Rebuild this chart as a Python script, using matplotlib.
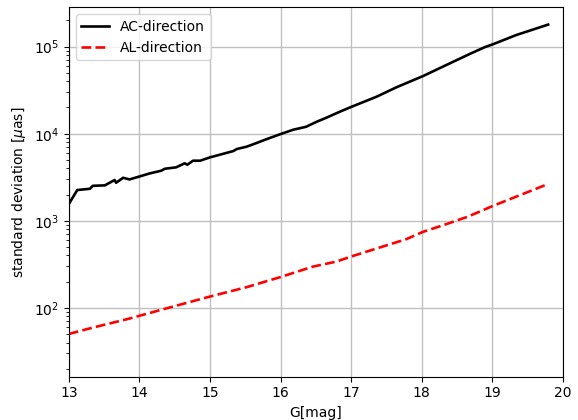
import matplotlib
matplotlib.use("Agg")
import matplotlib.pyplot as plt

# values (G magnitude vs. standard deviation in micro-arcsec)
g_ac = [13.0, 13.12, 13.30, 13.34, 13.51, 13.65, 13.67, 13.77, 13.86, 14.15, 14.31,
        14.36, 14.52, 14.64, 14.68, 14.76, 14.86, 15.00, 15.33, 15.38, 15.52, 15.66,
        15.78, 15.99, 16.18, 16.36, 16.51, 16.65, 16.84, 17.00, 17.36, 17.64, 18.02,
        18.40, 18.68, 18.89, 19.01, 19.34, 19.79]
sd_ac = [1556, 2255, 2333, 2524, 2550, 2940, 2735, 3120, 2985, 3506, 3760,
         3960, 4110, 4570, 4410, 4900, 4900, 5350, 6320, 6670, 7100, 7820,
         8530, 9840, 11120, 12000, 13700, 15280, 17900, 20300, 26600, 34100, 46000,
         64400, 82400, 98400, 106600, 136000, 179000]

g_al = [13.0, 13.34, 13.82, 14.34, 15.0, 15.52, 15.99, 16.46, 16.79, 17.0, 17.36,
        17.78, 18.02, 18.35, 18.63, 18.77, 19.01, 19.77]
sd_al = [50.2, 59.4, 74, 96.6, 135, 173, 225, 298, 340, 389, 481,
         615, 748, 917, 1100, 1225, 1486, 2610]

fig, ax = plt.subplots(figsize=(5.78, 4.2), dpi=100)
ax.plot(g_ac, sd_ac, color='black', linestyle='-', linewidth=1.9, label='AC-direction')
ax.plot(g_al, sd_al, color='red', linestyle='--', linewidth=1.9, label='AL-direction')
ax.set_yscale('log')
ax.set_xlim(13, 20)
ax.set_ylim(16.2, 2.84e5)
ax.set_xlabel('G[mag]')
ax.set_ylabel(r'standard deviation [$\mu$as]')
ax.grid(True, which='major', color='#c0c0c0', linewidth=1)
ax.legend(loc='upper left')

plt.subplots_adjust(left=0.119, right=0.974, top=0.983, bottom=0.103)
plt.savefig('out.png', dpi=100)
